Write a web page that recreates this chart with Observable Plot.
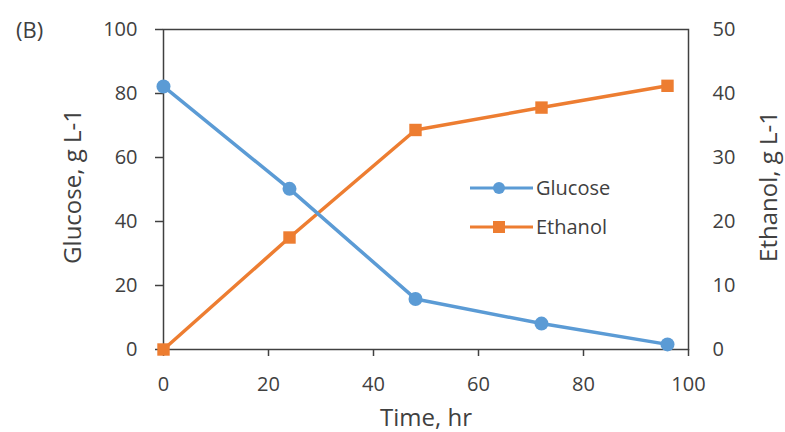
<!DOCTYPE html>
<html><head><meta charset="utf-8">
<script src="https://cdn.jsdelivr.net/npm/d3@7"></script>
<script src="https://cdn.jsdelivr.net/npm/@observablehq/plot@0.6"></script>
<style>
body{margin:0;background:#fff;font-family:"Open Sans",sans-serif;}
#wrap{position:relative;width:785px;height:432px;overflow:hidden;}
#legend{position:absolute;left:470px;top:168px;font-size:20px;color:#404040;}
.row{display:flex;align-items:center;height:39px;}
.row span{margin-left:3px;}
#tag{position:absolute;left:16px;top:14px;font-size:22px;color:#404040;}
</style></head><body>
<div id="wrap"><div id="tag">(B)</div><div id="legend"></div></div>
<script>
const time = [0, 24, 48, 72, 96];
const glucose = [82.2, 50.2, 15.8, 8.1, 1.6];
const ethanol = [0, 17.5, 34.3, 37.8, 41.2];
const leftTicks = [0, 20, 40, 60, 80, 100];
const rightTicks = [0, 10, 20, 30, 40, 50];
const xTicks = [0, 20, 40, 60, 80, 100];
const blue = "#5B9BD5", orange = "#ED7D31", ink = "#404040";

const gData = time.map((t, i) => ({t, v: glucose[i]}));
const eData = time.map((t, i) => ({t, v: ethanol[i] * 2})); // mapped onto left scale (0-50 -> 0-100)

const chart = Plot.plot({
  width: 785, height: 432,
  marginLeft: 163, marginRight: 97, marginTop: 29, marginBottom: 83,
  style: {fontFamily: "Open Sans, sans-serif", fontSize: "20px", color: ink, background: "transparent"},
  x: {domain: [0, 100]},
  y: {domain: [0, 100]},
  marks: [
    Plot.frame({stroke: ink, strokeWidth: 1.5}),
    Plot.axisX({ticks: xTicks, tickSize: 7, tickPadding: 20, strokeWidth: 1.5, label: null}),
    Plot.axisY({ticks: leftTicks, tickSize: 8, tickPadding: 18, strokeWidth: 1.5, label: null}),
    Plot.axisY({anchor: "right", ticks: rightTicks.map(d => d * 2), tickFormat: d => d / 2, tickSize: 0, tickPadding: 24, label: null}),
    Plot.line(eData, {x: "t", y: "v", stroke: orange, strokeWidth: 3.5}),
    Plot.dot(eData, {x: "t", y: "v", symbol: "square", r: 7, fill: orange}),
    Plot.line(gData, {x: "t", y: "v", stroke: blue, strokeWidth: 3.5}),
    Plot.dot(gData, {x: "t", y: "v", r: 7, fill: blue}),
    Plot.text(["Time, hr"], {frameAnchor: "bottom", dy: 76, fontSize: 24, lineAnchor: "bottom", fill: ink}),
    Plot.text(["Glucose, g L-1"], {frameAnchor: "left", dx: -90, dy: -3, rotate: -90, textAnchor: "middle", fontSize: 24, fill: ink}),
    Plot.text(["Ethanol, g L-1"], {frameAnchor: "right", dx: 81, dy: -3, rotate: -90, textAnchor: "middle", fontSize: 24, fill: ink})
  ]
});
document.getElementById("wrap").appendChild(chart);

const legendItems = [{name: "Glucose", color: blue, shape: "circle"}, {name: "Ethanol", color: orange, shape: "square"}];
const lg = document.getElementById("legend");
for (const it of legendItems) {
  const row = document.createElement("div");
  row.className = "row";
  const marker = it.shape === "circle"
    ? `<circle cx="29" cy="10" r="6" fill="${it.color}"/>`
    : `<rect x="23" y="4" width="12" height="12" fill="${it.color}"/>`;
  row.innerHTML = `<svg width="63" height="20"><line x1="0" x2="63" y1="10" y2="10" stroke="${it.color}" stroke-width="3"/>${marker}</svg><span>${it.name}</span>`;
  lg.appendChild(row);
}
</script>
</body></html>
